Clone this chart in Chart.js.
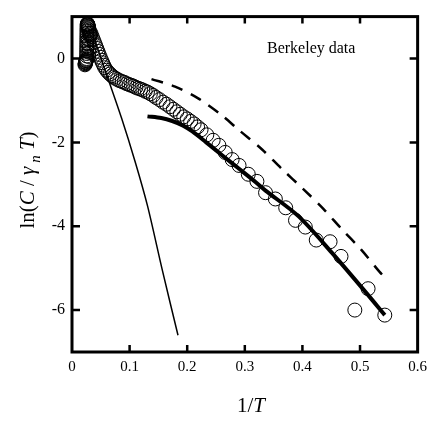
<!DOCTYPE html>
<html>
<head>
<meta charset="utf-8">
<script src="https://cdn.jsdelivr.net/npm/chart.js@4"></script>
<style>
  html, body { margin: 0; padding: 0; background: #fff; }
  #wrap { width: 433px; height: 421px; }
</style>
</head>
<body>
<div id="wrap"><canvas id="myChart" width="433" height="421"></canvas></div>
<script>
// measured points (1/T, ln(C/gamma_n T))
const circleX = [
  0.0225, 0.0228, 0.0231, 0.0234, 0.0237, 0.024, 0.0243, 0.0246, 0.0249, 0.0252, 0.0254,
  0.0255, 0.0256, 0.0256, 0.0257, 0.0257, 0.0258, 0.0258, 0.0259, 0.0259, 0.026, 0.026, 0.0261, 0.0262, 0.0263, 0.0265,
  0.0268, 0.0271, 0.0274, 0.0277, 0.028, 0.0284, 0.0288, 0.0292, 0.0296, 0.03, 0.0305, 0.031, 0.0315, 0.032,
  0.029, 0.0295, 0.03, 0.0295, 0.029,
  0.033, 0.035, 0.037, 0.039, 0.041, 0.043, 0.045, 0.047, 0.049, 0.051, 0.053, 0.055, 0.057, 0.06,
  0.063, 0.066, 0.069, 0.072, 0.075, 0.079, 0.083, 0.087, 0.091, 0.095, 0.099, 0.103, 0.107, 0.111,
  0.115, 0.119, 0.123, 0.127, 0.131, 0.136, 0.141, 0.146, 0.152, 0.158, 0.164, 0.17, 0.176, 0.182,
  0.188, 0.194, 0.2, 0.206, 0.212, 0.218, 0.224, 0.234, 0.245, 0.255, 0.266, 0.278, 0.29, 0.306,
  0.321, 0.336, 0.353, 0.371, 0.388, 0.405, 0.424, 0.448, 0.467, 0.491, 0.514, 0.543
];
const circleY = [
  -0.15, -0.13, -0.12, -0.1, -0.09, -0.08, -0.06, -0.05, -0.04, -0.02, 0.0,
  0.06, 0.12, 0.18, 0.24, 0.3, 0.36, 0.42, 0.48, 0.54, 0.6, 0.66, 0.71, 0.76, 0.8, 0.82,
  0.83, 0.82, 0.81, 0.8, 0.78, 0.76, 0.74, 0.71, 0.68, 0.65, 0.62, 0.59, 0.56, 0.53,
  0.45, 0.35, 0.25, 0.15, 0.05,
  0.6, 0.52, 0.45, 0.38, 0.31, 0.24, 0.17, 0.1, 0.03, -0.04, -0.1, -0.16, -0.22, -0.28,
  -0.33, -0.37, -0.41, -0.44, -0.47, -0.5, -0.53, -0.55, -0.57, -0.6, -0.62, -0.64, -0.66, -0.69,
  -0.71, -0.73, -0.75, -0.78, -0.8, -0.84, -0.88, -0.93, -0.98, -1.04, -1.09, -1.15, -1.21, -1.27,
  -1.33, -1.39, -1.44, -1.5, -1.56, -1.63, -1.7, -1.82, -1.95, -2.07, -2.24, -2.41, -2.55, -2.76,
  -2.93, -3.2, -3.35, -3.56, -3.86, -4.02, -4.33, -4.37, -4.72, -6.0, -5.49, -6.12
];

// thick solid curve
const thickX = [0.131, 0.155, 0.174, 0.193, 0.209, 0.233, 0.26, 0.29, 0.319, 0.336, 0.393, 0.451, 0.509, 0.543];
const thickY = [-1.38, -1.42, -1.49, -1.6, -1.74, -2.0, -2.3, -2.63, -2.95, -3.15, -3.76, -4.63, -5.56, -6.12];

// dashed curve
const dashX = [0.138, 0.179, 0.219, 0.257, 0.291, 0.33, 0.364, 0.402, 0.436, 0.467, 0.502, 0.534, 0.543];
const dashY = [-0.49, -0.67, -0.95, -1.32, -1.72, -2.17, -2.63, -3.12, -3.58, -4.05, -4.56, -5.09, -5.22];

// thin steep curve
const thinX = [0.04, 0.057, 0.086, 0.11, 0.131, 0.157, 0.184];
const thinY = [0.42, -0.26, -1.42, -2.48, -3.51, -5.06, -6.6];

const xMajor = [0.1, 0.2, 0.3, 0.4, 0.5];
const yMajor = [0, -2, -4, -6];

const pts = (xs, ys) => xs.map((x, i) => ({ x: x, y: ys[i] }));
const serif = 'Liberation Serif';

const frame = {
  id: 'frame',
  afterDraw(chart) {
    const c = chart.ctx, a = chart.chartArea;
    const xs = chart.scales.x, ys = chart.scales.y;
    c.save();
    c.strokeStyle = '#000';
    c.lineWidth = 3;
    c.strokeRect(a.left, a.top, a.right - a.left, a.bottom - a.top);
    c.lineWidth = 2.5;
    c.beginPath();
    xMajor.forEach(v => {
      const p = xs.getPixelForValue(v);
      c.moveTo(p, a.bottom); c.lineTo(p, a.bottom - 7);
      c.moveTo(p, a.top); c.lineTo(p, a.top + 7);
    });
    yMajor.forEach(v => {
      const p = ys.getPixelForValue(v);
      c.moveTo(a.left, p); c.lineTo(a.left + 8, p);
      c.moveTo(a.right, p); c.lineTo(a.right - 8, p);
    });
    c.stroke();

    c.fillStyle = '#000';
    c.textBaseline = 'alphabetic';
    c.font = '16px "' + serif + '"';
    c.fillText('Berkeley data', 267, 53);

    // x title: 1/T
    const f1 = '21px "' + serif + '"', f2 = 'italic 21px "' + serif + '"';
    c.font = f1; const w1 = c.measureText('1/').width;
    c.font = f2; const w2 = c.measureText('T').width;
    let x0 = 251 - (w1 + w2) / 2;
    c.font = f1; c.fillText('1/', x0, 412);
    c.font = f2; c.fillText('T', x0 + w1, 412);

    // y title: ln(C / γn T)
    const parts = [
      ['ln(', f1, 0], ['C', f2, 0], [' / ', f1, 0], ['γ', f2, 0],
      [' n', 'italic 15px "' + serif + '"', 6], [' T', f2, 0], [')', f1, 0]
    ];
    let tot = 0;
    parts.forEach(p => { c.font = p[1]; p.push(c.measureText(p[0]).width); tot += p[3]; });
    c.translate(34, 180);
    c.rotate(-Math.PI / 2);
    let px = -tot / 2;
    parts.forEach(p => { c.font = p[1]; c.fillText(p[0], px, p[2]); px += p[3]; });
    c.restore();
  }
};

new Chart(document.getElementById('myChart'), {
  type: 'scatter',
  data: {
    datasets: [
      {
        label: 'data',
        data: pts(circleX, circleY),
        pointStyle: 'circle',
        pointRadius: 7,
        borderWidth: 1,
        borderColor: '#000',
        backgroundColor: 'rgba(0,0,0,0)'
      },
      {
        label: 'thin',
        data: pts(thinX, thinY),
        showLine: true,
        pointRadius: 0,
        borderColor: '#000',
        borderWidth: 1.5,
        tension: 0.3
      },
      {
        label: 'dashed',
        data: pts(dashX, dashY),
        showLine: true,
        pointRadius: 0,
        borderColor: '#000',
        borderWidth: 2.5,
        borderDash: [12, 9],
        tension: 0.3
      },
      {
        label: 'thick',
        data: pts(thickX, thickY),
        showLine: true,
        pointRadius: 0,
        borderColor: '#000',
        borderWidth: 4,
        tension: 0.3
      }
    ]
  },
  options: {
    responsive: false,
    animation: false,
    layout: { padding: { top: 5, right: 13, left: 0, bottom: 0 } },
    plugins: {
      legend: { display: false },
      tooltip: { enabled: false }
    },
    scales: {
      x: {
        type: 'linear',
        min: 0,
        max: 0.6,
        afterFit(s) { s.height = 69; },
        grid: { display: false, drawTicks: false },
        border: { display: false },
        ticks: {
          stepSize: 0.1,
          padding: 6,
          color: '#000',
          font: { family: serif, size: 15 },
          callback: v => Math.abs(v) < 1e-9 ? '0' : v.toFixed(1)
        }
      },
      y: {
        type: 'linear',
        min: -7,
        max: 1,
        afterFit(s) { s.width = 72; },
        grid: { display: false, drawTicks: false },
        border: { display: false },
        ticks: {
          stepSize: 1,
          padding: 7,
          color: '#000',
          font: { family: serif, size: 16 },
          callback: v => (Math.round(v) % 2 === 0 && v <= 0) ? String(Math.round(v)) : ''
        }
      }
    }
  },
  plugins: [frame]
});
</script>
</body>
</html>
